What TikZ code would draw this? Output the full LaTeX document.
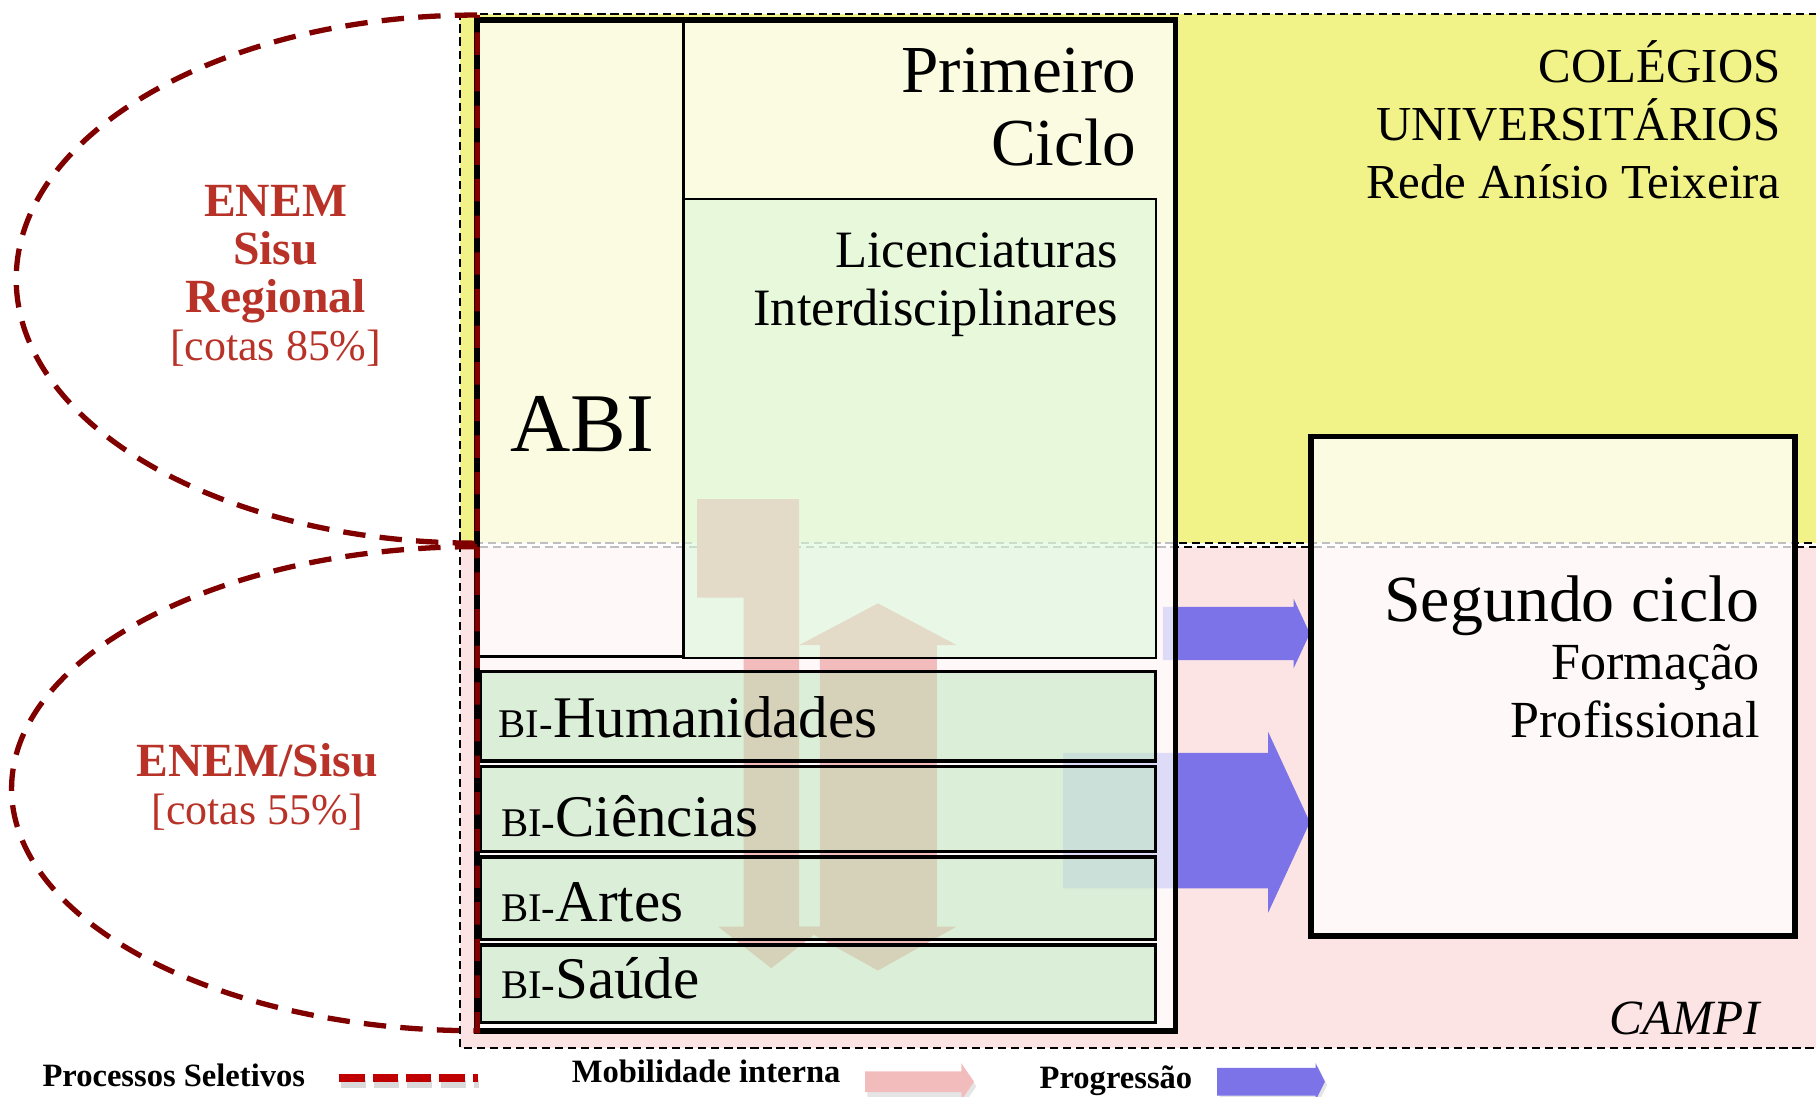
\documentclass[tikz,border=0pt]{standalone}
\usepackage{fontspec}
\setmainfont{Liberation Serif}

\definecolor{bandyellow}{RGB}{241,242,136}
\definecolor{bandpink}{RGB}{253,228,228}
\definecolor{selred}{RGB}{128,0,0}
\definecolor{enemred}{RGB}{184,50,40}
\definecolor{legred}{RGB}{192,0,0}
\definecolor{progblue}{RGB}{124,115,232}
\definecolor{mobpink}{RGB}{243,188,188}
\definecolor{licgreen}{RGB}{213,249,213}
\definecolor{bigreen}{RGB}{186,230,184}

\newcommand{\biprefix}{{\fontsize{10}{12}\selectfont BI-}}
\newcommand{\cotas}[1]{{\fontsize{10.8}{11.8}\selectfont[cotas #1\%]}}

\tikzset{
  band/.style={draw=black,line width=0.5pt,dash pattern=on 2pt off 1.2pt},
  bigbox/.style={draw=black,line width=1.4pt,fill=white,fill opacity=0.75},
  thinline/.style={draw=black,line width=0.6pt},
  licbox/.style={draw=black,line width=0.6pt,fill=licgreen,fill opacity=0.5},
  bibox/.style={draw=black,line width=0.8pt,fill=bigreen,fill opacity=0.5},
  progarrow/.style={fill=progblue},
  mobarrow/.style={fill=mobpink},
  selpath/.style={draw=selred,line width=1.3pt,dash pattern=on 5.5pt off 3.5pt},
  seltext/.style={text=enemred,align=center,anchor=base,font=\fontsize{11.7}{11.8}\selectfont},
  bitext/.style={anchor=base west,font=\fontsize{14.5}{16}\selectfont},
  legtext/.style={anchor=base west,font=\fontsize{8}{9}\selectfont\bfseries},
}

\begin{document}
\begin{tikzpicture}[x=0.1mm,y=-0.1mm,every node/.style={inner sep=0pt}]
\useasboundingbox (0,0) rectangle (1568,947);

% campus bands
\fill[bandyellow] (397,12) rectangle (1580,469);
\fill[bandpink] (397,472) rectangle (1580,905);
\draw[band] (1580,12) -- (397,12) -- (397,469) -- (1580,469);
\draw[band] (1580,472) -- (397,472) -- (397,905) -- (1580,905);

% progressao
\fill[progarrow] (1004,524) -- (1117,524) -- (1117,517) -- (1131,547) -- (1117,577) -- (1117,570) -- (1004,570) -- cycle;
\fill[progarrow] (918,650) -- (1095,650) -- (1095,632) -- (1131,710) -- (1095,788) -- (1095,767) -- (918,767) -- cycle;

% ciclos
\draw[bigbox] (412,17) rectangle (1015,890);
\draw[bigbox] (1132,377) rectangle (1550,808);
\draw[thinline] (590,17) -- (590,567) -- (412,567);

% mobilidade interna
\fill[mobarrow] (602,431) -- (690,431) -- (690,800) -- (712,800) -- (666,836) -- (620,800) -- (642,800) -- (642,516) -- (602,516) -- cycle;
\fill[mobarrow] (758,521) -- (826,557) -- (809,557) -- (809,800) -- (826,800) -- (758,838) -- (690,800) -- (708,800) -- (708,557) -- (690,557) -- cycle;

\draw[licbox] (590,172) rectangle (998,568);
\foreach \ya/\yb in {580/657,662/735,740/811,816/883}
  \draw[bibox] (415,\ya) rectangle (998,\yb);

% processos seletivos
\draw[selpath] (412,13) .. controls (192,13) and (14,115) .. (14,241) .. controls (14,367) and (192,469) .. (412,469) -- cycle;
\draw[selpath] (412,472) .. controls (190,472) and (10,566) .. (10,681) .. controls (10,796) and (190,890) .. (412,890) -- cycle;

% textos (base = ultima linha)
\node[anchor=base east,align=right,font=\fontsize{16.5}{17.9}\selectfont] (primeiro) at (982,143) {Primeiro\\Ciclo};
\node[anchor=base west,font=\fontsize{20.5}{24}\selectfont] (abi) at (440,390) {ABI};
\node[anchor=base east,align=right,font=\fontsize{12.9}{14.2}\selectfont] (lic) at (966,281) {Licenciaturas\\Interdisciplinares};
\node[anchor=base east,align=right,font=\fontsize{12}{14.2}\selectfont] (colegios) at (1538,171) {COLÉGIOS\\UNIVERSITÁRIOS\\Rede Anísio Teixeira};
\node[anchor=base east,font=\fontsize{16.2}{18}\selectfont] (segundo) at (1520,537) {Segundo ciclo};
\node[anchor=base east,align=right,font=\fontsize{12.8}{14.2}\selectfont] (formacao) at (1520,637) {Formação\\Profissional};
\node[anchor=base east,font=\fontsize{12.1}{14}\selectfont\itshape] (campi) at (1520,893) {CAMPI};

\node[bitext] (hum) at (430,637) {\biprefix Humanidades};
\node[bitext] (cie) at (432,722) {\biprefix Ciências};
\node[bitext] (art) at (432,796) {\biprefix Artes};
\node[bitext] (sau) at (432,862) {\biprefix Saúde};

\node[seltext] (enemreg) at (238,311) {\textbf{ENEM}\\\textbf{Sisu}\\\textbf{Regional}\\\cotas{85}};
\node[seltext] (enemsisu) at (222,712) {\textbf{ENEM/Sisu}\\\cotas{55}};

% legenda
\node[legtext] (legsel) at (36,938) {Processos Seletivos};
\draw[line width=2pt,draw=black!15,dash pattern=on 6.2pt off 2pt] (294,936) -- (414,936);
\draw[line width=2pt,draw=legred,dash pattern=on 6.2pt off 2pt] (293,931) -- (413,931);
\node[legtext] (legmob) at (493,935) {Mobilidade interna};
\fill[black!10] (749,928) -- (832,928) -- (832,922) -- (843,938) -- (832,954) -- (832,948) -- (749,948) -- cycle;
\fill[mobarrow] (747,925) -- (830,925) -- (830,918) -- (841,934) -- (830,950) -- (830,943) -- (747,943) -- cycle;
\node[legtext] (legprog) at (897,940) {Progressão};
\fill[black!10] (1053,925) -- (1138,925) -- (1138,921) -- (1146,937) -- (1138,953) -- (1138,949) -- (1053,949) -- cycle;
\fill[progarrow] (1051,922) -- (1136,922) -- (1136,918) -- (1144,934) -- (1136,950) -- (1136,946) -- (1051,946) -- cycle;
\end{tikzpicture}
\end{document}
